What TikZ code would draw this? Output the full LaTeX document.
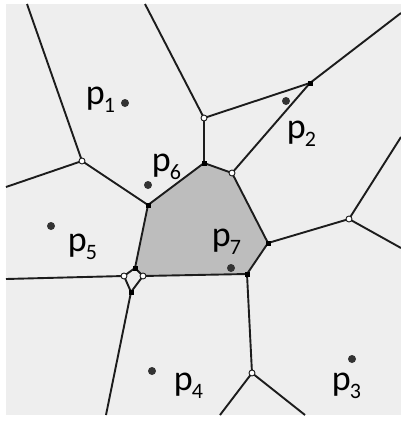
\documentclass[tikz,border=0pt]{standalone}
\usepackage{fontspec}
\setmainfont{Carlito}
\usepackage{xcolor}
\definecolor{planegray}{HTML}{EEEEEE}
\definecolor{cellgray}{HTML}{BDBDBD}
\definecolor{edgeblack}{HTML}{1C1C1C}
\newcommand{\site}[1]{p\kern-1pt\raisebox{-8pt}{\fontsize{22}{22}\selectfont #1}}

\begin{document}
\begin{tikzpicture}[x=1pt,y=-1pt,line width=1.9pt]
    \tikzstyle{edge}=[draw=edgeblack]
    \tikzstyle{cell}=[fill=cellgray]
    \tikzstyle{open vertex}=[circle,draw=edgeblack,fill=white,line width=0.9pt,minimum size=6pt,inner sep=0pt]
    \tikzstyle{vertex}=[rectangle,fill=black,minimum size=5pt,inner sep=0pt]
    \tikzstyle{site}=[circle,fill=black!80,minimum size=8pt,inner sep=0pt]
    \tikzstyle{annot}=[anchor=base west,inner sep=0pt,font=\fontsize{36}{36}\selectfont]

    \useasboundingbox (0,0) rectangle (401,421);
    \fill[planegray] (6,4) rectangle (401,415);

    % Voronoi vertices
    \coordinate (A) at (82,161);
    \coordinate (B) at (148,205);
    \coordinate (C) at (204,118);
    \coordinate (D) at (310,83);
    \coordinate (E) at (232,173);
    \coordinate (F) at (204,163);
    \coordinate (G) at (268,243);
    \coordinate (H) at (349,219);
    \coordinate (I) at (247,274);
    \coordinate (J) at (252,373);
    \coordinate (K) at (135,268);
    \coordinate (L) at (124,276);
    \coordinate (M) at (143,276);
    \coordinate (N) at (131,292);

    % free ends on the border
    \coordinate (T-1) at (27,4);
    \coordinate (T-2) at (145,4);
    \coordinate (R-1) at (401,13);
    \coordinate (R-2) at (401,137);
    \coordinate (R-3) at (401,248);
    \coordinate (L-1) at (6,187);
    \coordinate (L-2) at (6,279);
    \coordinate (S-1) at (106,415);
    \coordinate (S-2) at (220,415);
    \coordinate (S-3) at (305,415);

    % the cell of p7
    \fill[cell] (K) -- (B) -- (F) -- (E) -- (G) -- (I) -- (M) -- cycle;

    % Draw the edges
    \foreach \a / \b in {T-1/A, A/L-1, A/B, T-2/C, C/D, C/F, D/R-1, D/E,
                         F/B, F/E, E/G, G/H, G/I, H/R-2, H/R-3, I/J, I/M,
                         J/S-2, J/S-3, K/B, K/L, K/M, L/N, M/N, L/L-2, N/S-1}
        \draw[edge] (\a) -- (\b);

    % Draw the vertex marks
    \foreach \name in {A,C,E,H,J,L,M}
        \node[open vertex] (\name-mark) at (\name) {};
    \foreach \name in {B,D,F,G,I,K,N}
        \node[vertex] (\name-mark) at (\name) {};

    % Draw the sites
    \foreach \name / \x / \y in {1/125/103, 2/286/101, 3/352/359, 4/152/371,
                                 5/51/226, 6/148/185, 7/231/268}
        \node[site] (p-\name) at (\x,\y) {};

    \foreach \name / \x / \y in {1/85/104, 2/286/138, 3/331/390, 4/173/390,
                                 5/67/251, 6/151/171, 7/211/246}
        \node[annot] (lbl-\name) at (\x,\y) {\site{\name}};
\end{tikzpicture}
\end{document}
